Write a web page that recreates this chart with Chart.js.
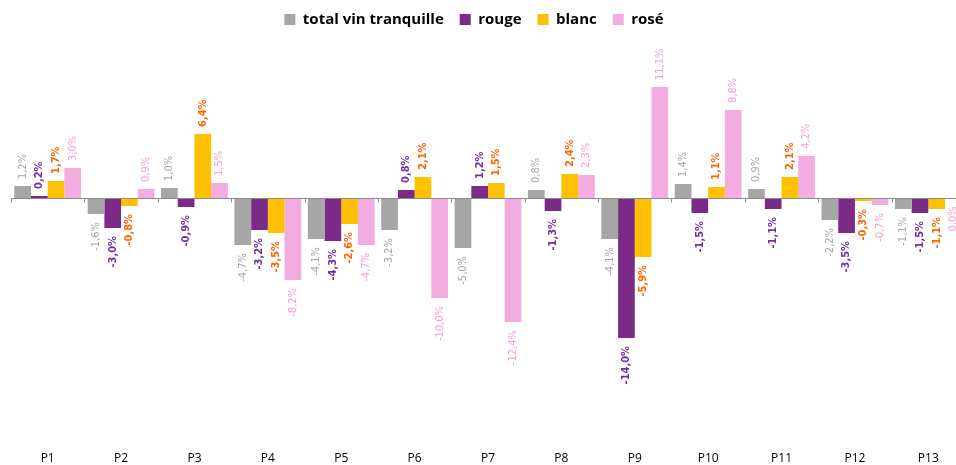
<!DOCTYPE html>
<html>
<head>
<meta charset="utf-8">
<script src="https://cdn.jsdelivr.net/npm/chart.js@4.4.1/dist/chart.umd.min.js"></script>
<style>
  html, body { margin: 0; padding: 0; background: #fff; overflow: hidden; }
  #wrap { width: 956px; height: 465px; overflow: hidden; }
</style>
</head>
<body>
<div id="wrap"><canvas id="volChart" width="966" height="465"></canvas></div>
<script>
// periods and % evolution per colour of wine
const periods = ['P1', 'P2', 'P3', 'P4', 'P5', 'P6', 'P7', 'P8', 'P9', 'P10', 'P11', 'P12', 'P13'];
const totalVin = [1.2, -1.6, 1.0, -4.7, -4.1, -3.2, -5.0, 0.8, -4.1, 1.4, 0.9, -2.2, -1.1];
const rouge = [0.2, -3.0, -0.9, -3.2, -4.3, 0.8, 1.2, -1.3, -14.0, -1.5, -1.1, -3.5, -1.5];
const blanc = [1.7, -0.8, 6.4, -3.5, -2.6, 2.1, 1.5, 2.4, -5.9, 1.1, 2.1, -0.3, -1.1];
const rose = [3.0, 0.9, 1.5, -8.2, -4.7, -10.0, -12.4, 2.3, 11.1, 8.8, 4.2, -0.7, -0.04];

const ctx = document.getElementById('volChart').getContext('2d');

// zero line with small category ticks (axis crosses at 0)
const zeroAxis = {
  id: 'zeroAxis',
  afterDatasetsDraw(chart) {
    const { ctx, chartArea, scales: { x, y } } = chart;
    const y0 = Math.round(y.getPixelForValue(0)) + 0.5;
    const step = chartArea.width / periods.length;
    ctx.save();
    ctx.strokeStyle = '#8c8c8c';
    ctx.lineWidth = 1;
    ctx.beginPath();
    ctx.moveTo(chartArea.left, y0);
    ctx.lineTo(chartArea.right, y0);
    for (let i = 0; i <= periods.length; i++) {
      const xp = Math.round(x.getPixelForValue(0) - step / 2 + i * step) + 0.5;
      ctx.moveTo(xp, y0);
      ctx.lineTo(xp, y0 + 4);
    }
    ctx.stroke();
    ctx.restore();
  }
};

// rotated value labels above / below each bar
const valueLabels = {
  id: 'valueLabels',
  afterDatasetsDraw(chart) {
    const c = chart.ctx;
    chart.data.datasets.forEach((ds, i) => {
      const meta = chart.getDatasetMeta(i);
      meta.data.forEach((bar, j) => {
        const v = ds.data[j];
        let r = Math.round(v * 10) / 10;
        if (r === 0) r = 0;
        const txt = r.toFixed(1).replace('.', ',') + '%';
        c.save();
        c.translate(bar.x, bar.y + (v >= 0 ? -7 : 8));
        c.rotate(-Math.PI / 2);
        c.font = (ds.labelBold ? 'bold ' : '') + '11px "DejaVu Sans Condensed", "DejaVu Sans"';
        c.fillStyle = ds.labelColor;
        c.textBaseline = 'middle';
        c.textAlign = v >= 0 ? 'left' : 'right';
        c.fillText(txt, 0, 0);
        c.restore();
      });
    });
  }
};

// legend sits a bit left and higher than Chart.js would put it
const legendShift = {
  id: 'legendShift',
  afterLayout(chart) {
    const lg = chart.legend;
    lg.left -= 14; lg.right -= 14;
    lg.top -= 11; lg.bottom -= 11;
  }
};

const data = {
  labels: periods,
  datasets: [
    { label: 'total vin tranquille', data: totalVin, backgroundColor: '#a6a6a6', labelColor: '#a6a6a6', labelBold: false },
    { label: 'rouge', data: rouge, backgroundColor: '#7b2a88', labelColor: '#7030a0', labelBold: true },
    { label: 'blanc', data: blanc, backgroundColor: '#ffc000', labelColor: '#ff6600', labelBold: true },
    { label: 'rosé', data: rose, backgroundColor: '#f2ace0', labelColor: '#f89ad6', labelBold: false }
  ]
};

const config = {
  type: 'bar',
  data: data,
  options: {
    responsive: false,
    animation: false,
    layout: { padding: { left: 11, right: 1, top: 7, bottom: 0 } },
    datasets: { bar: { categoryPercentage: 0.91, barPercentage: 1.0, borderWidth: 0 } },
    plugins: {
      legend: {
        position: 'top',
        labels: {
          boxWidth: 11,
          boxHeight: 11,
          padding: 16,
          color: '#000',
          font: { family: 'Open Sans', size: 15, weight: 'bold' }
        }
      },
      tooltip: { enabled: false }
    },
    scales: {
      x: {
        grid: { display: false, drawTicks: false },
        border: { display: false },
        ticks: { color: '#000', padding: 3, font: { family: 'Open Sans', size: 12 } },
        afterFit(scale) { scale.height = 17; }
      },
      y: {
        display: false,
        min: -25,
        max: 15
      }
    }
  },
  plugins: [zeroAxis, valueLabels, legendShift]
};

const myChart = new Chart(ctx, config);
</script>
</body>
</html>
